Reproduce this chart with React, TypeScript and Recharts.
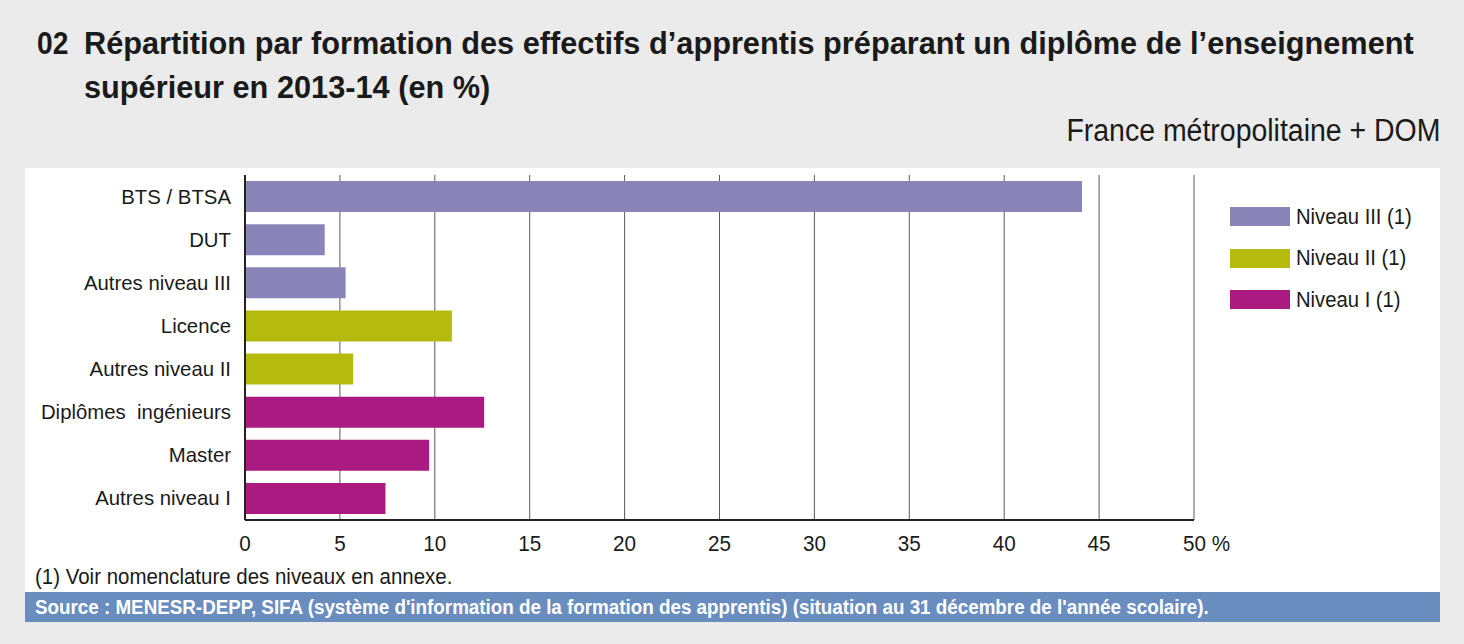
import React from 'react';
import { BarChart, Bar, XAxis, YAxis, CartesianGrid, Cell } from 'recharts';

const categories = [
  'BTS / BTSA',
  'DUT',
  'Autres niveau III',
  'Licence',
  'Autres niveau II',
  'Diplômes\u00a0 ingénieurs',
  'Master',
  'Autres niveau I',
];
const values = [44.1, 4.2, 5.3, 10.9, 5.7, 12.6, 9.7, 7.4];
const levels = [0, 0, 0, 1, 1, 2, 2, 2];
const levelNames = ['Niveau III (1)', 'Niveau II (1)', 'Niveau I (1)'];
const levelColors = ['#8a85b9', '#b4bb0c', '#ab1a80'];
const xTicks = [0, 5, 10, 15, 20, 25, 30, 35, 40, 45, 50];

const FONT = "'Liberation Sans', Arial, sans-serif";
const SQ = 0.94;

const data = categories.map((name, i) => ({ name, value: values[i], level: levels[i] }));

// slightly condensed look: Liberation Sans squeezed horizontally
const Narrow = ({ children, origin = 'left', k = SQ }: any) => (
  <span
    style={{
      display: 'inline-block',
      whiteSpace: 'nowrap',
      transform: `scaleX(${k})`,
      transformOrigin: origin,
    }}
  >
    {children}
  </span>
);

const XTick = (props: any) => {
  const { x, y, payload } = props;
  const v = payload.value;
  const is50 = v === 50;
  return (
    <g transform={`translate(${is50 ? x - 11 : x},${y + 23}) scale(${SQ},1)`}>
      <text textAnchor={is50 ? 'start' : 'middle'} fontSize={22} fill="#1a1a1a" fontFamily={FONT}>
        {is50 ? '50 %' : v}
      </text>
    </g>
  );
};

const YTick = (props: any) => {
  const { x, y, payload } = props;
  return (
    <g transform={`translate(${x},${y + 7}) scale(0.97,1)`}>
      <text textAnchor="end" fontSize={21} fill="#1a1a1a" fontFamily={FONT} style={{ whiteSpace: 'pre' }}>
        {payload.value}
      </text>
    </g>
  );
};

export default function App() {
  return (
    <div
      style={{
        position: 'absolute',
        left: 0,
        top: 0,
        width: 1464,
        height: 644,
        background: '#ebebeb',
        fontFamily: FONT,
        color: '#1a1a1a',
        overflow: 'hidden',
      }}
    >
      <div style={{ position: 'absolute', left: 37, top: 21, fontSize: 32, fontWeight: 'bold', lineHeight: '45px' }}>
        <Narrow k={0.88}>02</Narrow>
      </div>
      <div style={{ position: 'absolute', left: 84, top: 21, fontSize: 32, fontWeight: 'bold', lineHeight: '44px' }}>
        <Narrow k={0.96}>Répartition par formation des effectifs d’apprentis préparant un diplôme de l’enseignement</Narrow>
        <br />
        <Narrow k={0.96}>supérieur en 2013-14 (en %)</Narrow>
      </div>
      <div style={{ position: 'absolute', right: 24, top: 113, fontSize: 31 }}>
        <Narrow origin="right" k={0.918}>France métropolitaine + DOM</Narrow>
      </div>

      <div style={{ position: 'absolute', left: 25, top: 168, width: 1415, height: 424, background: '#ffffff' }} />

      <div style={{ position: 'absolute', left: 25, top: 168 }}>
        <BarChart
          width={1415}
          height={392}
          data={data}
          layout="vertical"
          margin={{ top: 7, right: 246, bottom: 0, left: 0 }}
          barSize={31}
        >
          <CartesianGrid horizontal={false} stroke="#5a5a5a" strokeWidth={1} />
          <XAxis
            type="number"
            domain={[0, 50]}
            ticks={xTicks}
            interval={0}
            tick={<XTick />}
            tickLine={false}
            axisLine={{ stroke: '#222', strokeWidth: 2 }}
            height={40}
          />
          <YAxis
            type="category"
            dataKey="name"
            width={220}
            tickLine={false}
            axisLine={{ stroke: '#222', strokeWidth: 2 }}
            tickMargin={8}
            tick={<YTick />}
          />
          <Bar dataKey="value" isAnimationActive={false}>
            {data.map((d, i) => (
              <Cell key={i} fill={levelColors[d.level]} />
            ))}
          </Bar>
        </BarChart>
      </div>

      <div style={{ position: 'absolute', left: 1230, top: 196, fontSize: 22 }}>
        {levelNames.map((n, i) => (
          <div key={n} style={{ display: 'flex', alignItems: 'center', height: 41.5 }}>
            <div style={{ width: 60, height: 19, background: levelColors[i], marginRight: 6, flex: 'none' }} />
            <Narrow k={0.92}>{n}</Narrow>
          </div>
        ))}
      </div>

      <div style={{ position: 'absolute', left: 35, top: 564, fontSize: 22 }}>
        <Narrow k={0.93}>(1) Voir nomenclature des niveaux en annexe.</Narrow>
      </div>
      <div
        style={{
          position: 'absolute',
          left: 25,
          top: 592,
          width: 1415,
          height: 30,
          background: '#6a8dbf',
          color: '#ffffff',
          fontWeight: 'bold',
          fontSize: 20,
          lineHeight: '30px',
          paddingLeft: 10,
          boxSizing: 'border-box',
        }}
      >
        <Narrow>
          Source : MENESR-DEPP, SIFA (système d'information de la formation des apprentis) (situation au 31 décembre de
          l'année scolaire).
        </Narrow>
      </div>
    </div>
  );
}
